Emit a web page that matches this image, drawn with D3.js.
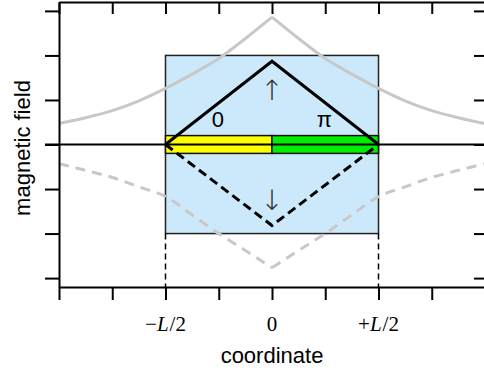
<!DOCTYPE html>
<html>
<head>
<meta charset="utf-8">
<script src="https://cdn.jsdelivr.net/npm/d3@7"></script>
<style>
  body { margin: 0; background: #fff; }
  svg { display: block; }
</style>
</head>
<body>
<div class="chart"></div>
<script>
const width = 484;
const height = 373;

// data (coordinate in units of L/4, field in tick units)
const xTicks = [-4, -3, -2, -1, 0, 1, 2, 3, 4];
const yTicks = [-3, -2, -1, 0, 1, 2, 3];
const labelValues = [-2, 0, 2];
const labelTexts = ["\u2212L/2", "0", "+L/2"];

const fieldX = [-4, -3.5, -3, -2.5, -2, -1.5, -1, -0.5, 0, 0.5, 1, 1.5, 2, 2.5, 3, 3.5, 4];
const fieldUp = [0.47, 0.6, 0.76, 0.98, 1.26, 1.58, 1.93, 2.38, 2.86, 2.38, 1.93, 1.58, 1.26, 0.98, 0.76, 0.6, 0.47];
const fieldDown = [-0.43, -0.58, -0.74, -0.95, -1.17, -1.58, -2.0, -2.38, -2.77, -2.38, -2.0, -1.58, -1.17, -0.95, -0.74, -0.58, -0.43];

const triX = [-2, 0, 2];
const triUp = [0, 1.87, 0];
const triDown = [0, -1.82, 0];

const slabX = [-2, 2];
const slabY = [-2, 2];
const stripY = [-0.2, 0.2];
const phases = ["0", "\u03c0"];
const arrows = ["\u2191", "\u2193"];

const svg = d3.select(".chart").append("svg")
  .attr("width", width)
  .attr("height", height);

const x = d3.scaleLinear().domain([-4, 4]).range([59, 485]);
const y = d3.scaleLinear().domain([-3.2, 3.2]).range([287, 2]);

// slab
svg.append("rect")
  .attr("x", x(slabX[0])).attr("y", y(slabY[1]))
  .attr("width", x(slabX[1]) - x(slabX[0]))
  .attr("height", y(slabY[0]) - y(slabY[1]))
  .attr("fill", "#cce9fb")
  .attr("stroke", "#222").attr("stroke-width", 1.5);

// vertical dashed guides down to the axis
svg.selectAll(".guide").data(slabX).enter().append("line")
  .attr("x1", d => x(d)).attr("x2", d => x(d))
  .attr("y1", y(slabY[0])).attr("y2", y(-3.2))
  .attr("stroke", "#000").attr("stroke-width", 1.5)
  .attr("stroke-dasharray", "6,4");

// outside field (gray), drawn as two halves to keep the cusp
function halves(vals) {
  const pts = fieldX.map((v, i) => [v, vals[i]]);
  return [pts.filter(p => p[0] <= 0), pts.filter(p => p[0] >= 0)];
}
const line = d3.line().x(d => x(d[0])).y(d => y(d[1])).curve(d3.curveMonotoneX);

svg.selectAll(".up").data(halves(fieldUp)).enter().append("path")
  .attr("d", line).attr("fill", "none")
  .attr("stroke", "#c8c8c8").attr("stroke-width", 3);
svg.selectAll(".down").data(halves(fieldDown)).enter().append("path")
  .attr("d", line).attr("fill", "none")
  .attr("stroke", "#c8c8c8").attr("stroke-width", 3)
  .attr("stroke-dasharray", "10,7");

// phase strip
const stripColors = ["#ffff00", "#00ee00"];
svg.selectAll(".strip").data(phases).enter().append("rect")
  .attr("x", (d, i) => x(slabX[0] + i * 2))
  .attr("y", y(stripY[1]))
  .attr("width", x(0) - x(slabX[0]))
  .attr("height", y(stripY[0]) - y(stripY[1]))
  .attr("fill", (d, i) => stripColors[i])
  .attr("stroke", "#111").attr("stroke-width", 1.5);

// zero line
svg.append("line")
  .attr("x1", 45).attr("x2", width)
  .attr("y1", y(0)).attr("y2", y(0))
  .attr("stroke", "#000").attr("stroke-width", 2);

// inside field (black)
const tri = d3.line().x(d => x(d[0])).y(d => y(d[1]));
svg.append("path")
  .attr("d", tri(triX.map((v, i) => [v, triUp[i]])))
  .attr("fill", "none").attr("stroke", "#000").attr("stroke-width", 3);
svg.append("path")
  .attr("d", tri(triX.map((v, i) => [v, triDown[i]])))
  .attr("fill", "none").attr("stroke", "#000").attr("stroke-width", 3)
  .attr("stroke-dasharray", "9,5");

// phase labels and arrows
svg.selectAll(".phase").data(phases).enter().append("text")
  .attr("x", (d, i) => x(i === 0 ? -1 : 1) - 1)
  .attr("y", y(stripY[1]) - 9)
  .attr("text-anchor", "middle")
  .style("font-family", "Liberation Sans, Arial, sans-serif")
  .style("font-size", "22px")
  .text(d => d);

svg.selectAll(".arrow").data(arrows).enter().append("text")
  .attr("x", x(0))
  .attr("y", (d, i) => i === 0 ? y(1.22) : y(-1.25))
  .attr("dy", "0.35em")
  .attr("text-anchor", "middle")
  .attr("fill", "#333")
  .style("font-family", "DejaVu Sans, sans-serif")
  .style("font-weight", "200")
  .style("font-size", "28px")
  .text(d => d);

// axes
const axes = svg.append("g").attr("class", "axis");
axes.append("g").attr("transform", `translate(0,${y(-3.2)})`)
  .call(d3.axisBottom(x).tickValues(xTicks).tickSize(13).tickSizeOuter(0).tickFormat(""));
axes.append("g").attr("transform", `translate(0,${y(3.2)})`)
  .call(d3.axisTop(x).tickValues(xTicks).tickSize(-12).tickSizeOuter(0).tickFormat(""));
axes.append("g").attr("transform", `translate(${x(-4)},0)`)
  .call(d3.axisLeft(y).tickValues(yTicks).tickSize(14).tickSizeOuter(0).tickFormat(""));
axes.append("g").attr("transform", `translate(${x(4)},0)`)
  .call(d3.axisRight(y).tickValues(yTicks).tickSize(-11).tickSizeOuter(0).tickFormat(""));
axes.selectAll("path, line").attr("stroke", "#000").attr("stroke-width", 2);

// tick labels with italic L
const lab = svg.selectAll(".tlab").data(labelValues).enter().append("text")
  .attr("x", d => x(d))
  .attr("y", 331)
  .attr("text-anchor", "middle")
  .style("font-family", "Liberation Serif, Times New Roman, serif")
  .style("font-size", "21px");
lab.each(function(d, i) {
  const parts = labelTexts[i].split("L");
  const t = d3.select(this);
  t.append("tspan").text(parts[0]);
  if (parts.length > 1) {
    t.append("tspan").style("font-style", "italic").text("L");
    t.append("tspan").attr("dx", 1).text(parts[1]);
  }
});

// axis titles
svg.append("text")
  .attr("x", 272).attr("y", 363)
  .attr("text-anchor", "middle")
  .style("font-family", "Liberation Sans, Arial, sans-serif")
  .style("font-size", "22px")
  .text("coordinate");
svg.append("text")
  .attr("transform", "translate(30,148) rotate(-90)")
  .attr("text-anchor", "middle")
  .style("font-family", "Liberation Sans, Arial, sans-serif")
  .style("font-size", "22px")
  .text("magnetic field");
</script>
</body>
</html>
